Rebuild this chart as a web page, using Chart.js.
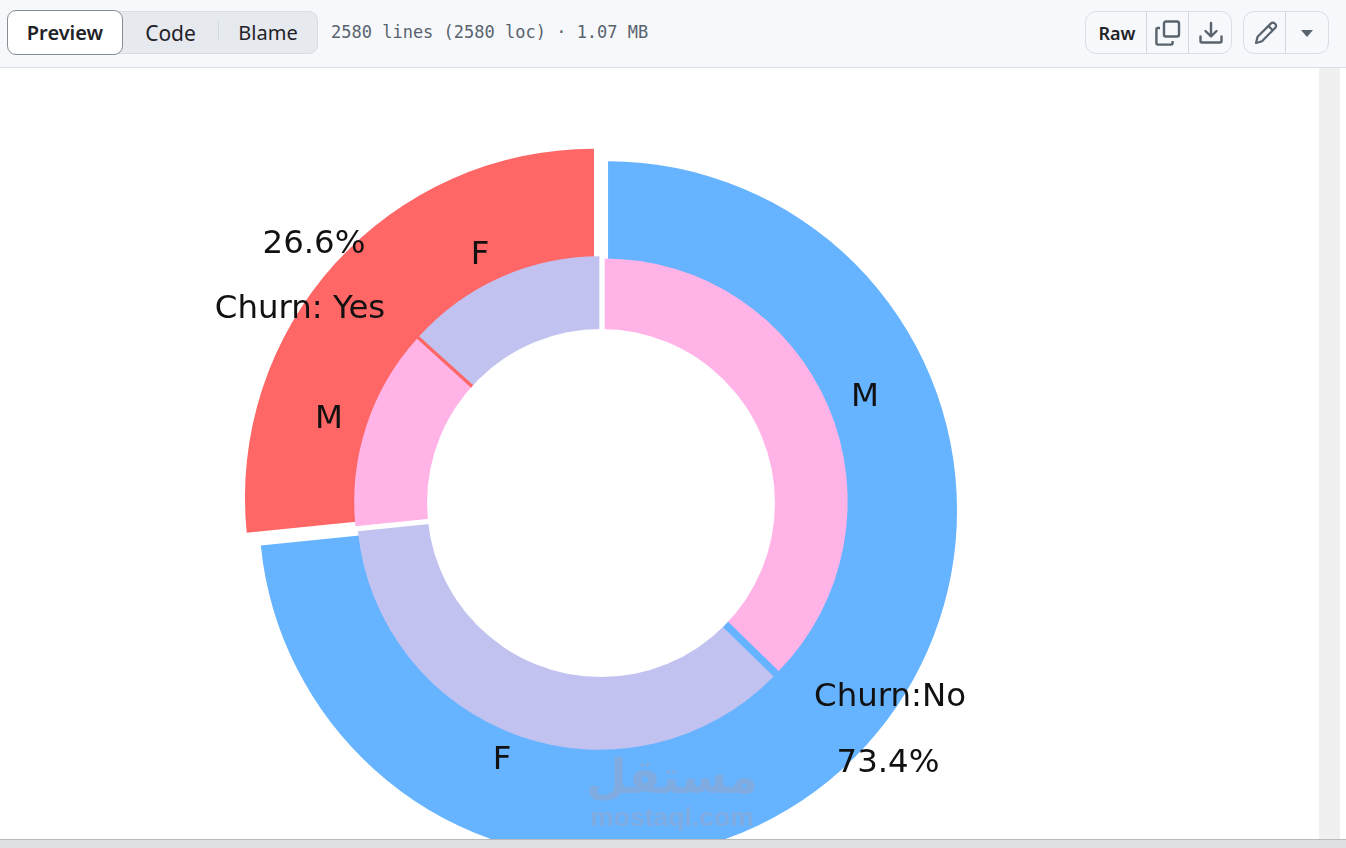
<!DOCTYPE html>
<html>
<head>
<meta charset="utf-8">
<title>Churn</title>
<script src="https://cdn.jsdelivr.net/npm/chart.js@4"></script>
<style>
html, body { margin: 0; padding: 0; width: 1346px; height: 848px; overflow: hidden; background: #fff; }
body { position: relative; font-family: "Noto Sans", sans-serif; color: #1f2328; }
#toolbar { position: absolute; left: 0; top: 0; width: 1346px; height: 67px; background: #f6f8fb; border-bottom: 1px solid #d8dee4; }
.seg { position: absolute; top: 11px; height: 43px; background: #e6e9ee; border: 1px solid #d8dce2; border-radius: 9px; box-sizing: border-box; }
.btn { position: absolute; text-align: center; font-size: 21px; line-height: 42px; }
.preview { left: 7px; top: 10px; width: 116px; height: 45px; line-height: 43px; background: #fff; border: 1px solid #858d97; border-radius: 9px; box-sizing: border-box; font-weight: 600; font-size: 20px; }
.sep { position: absolute; background: #d1d7de; width: 1px; }
#info { position: absolute; left: 331px; top: 22px; font-family: "DejaVu Sans Mono", monospace; font-size: 17px; line-height: 20px; color: #59636e; white-space: pre; }
.group { position: absolute; top: 11px; height: 43px; border: 1px solid #d8dee4; border-radius: 11px; box-sizing: border-box; background: #f6f8fb; }
.icon { position: absolute; }
#track { position: absolute; left: 1319px; top: 68px; width: 21px; height: 772px; background: #f0f0f0; }
#trackEdge { position: absolute; left: 1340px; top: 68px; width: 6px; height: 772px; background: #fff; }
#statusbar { position: absolute; left: 0; top: 839px; width: 1346px; height: 9px; background: #dfe1e5; border-top: 1px solid #b9bbbe; box-sizing: border-box; z-index: 5; }
canvas { position: absolute; }
#outerChart { left: 200.5px; top: 103.5px; }
#innerChart { left: 200.5px; top: 103px; }
.label { position: absolute; font-family: "DejaVu Sans", sans-serif; font-size: 32.4px; color: #111; white-space: nowrap; transform: translate(-50%, -50%); }
.mark { position: absolute; color: #7fabe0; font-weight: 700; white-space: nowrap; transform: translate(-50%, -50%); }
</style>
</head>
<body>
<div id="chartWrap">
    <canvas id="outerChart" width="800" height="800" style="width:800px;height:800px"></canvas>
    <canvas id="innerChart" width="800" height="800" style="width:800px;height:800px"></canvas>
</div>
<div id="labels"></div>
<div class="mark" dir="rtl" style="left:672px;top:776px;font-family:'DejaVu Sans',sans-serif;font-size:47px">مستقل</div>
<div class="mark" style="left:672px;top:817px;font-family:'Liberation Sans',sans-serif;font-size:26.5px">mostaql.com</div>

<div id="toolbar">
    <div class="seg" style="left:100px;width:218px"></div>
    <div class="btn preview">Preview</div>
    <div class="btn" style="left:123px;top:12px;width:95px">Code</div>
    <div class="sep" style="left:218px;top:22px;height:19px"></div>
    <div class="btn" style="left:219px;top:12px;width:98px;font-size:20px">Blame</div>
    <div id="info">2580 lines (2580 loc) · 1.07 MB</div>

    <div class="group" style="left:1085px;width:147px"></div>
    <div class="sep" style="left:1146px;top:12px;height:41px"></div>
    <div class="sep" style="left:1188px;top:12px;height:41px"></div>
    <div class="btn" style="left:1087px;top:12px;width:60px;font-size:18px;font-weight:600">Raw</div>
    <svg class="icon" style="left:1155px;top:20px" width="26" height="26" viewBox="0 0 26 26" fill="none" stroke="#59636e" stroke-width="2.4" stroke-linejoin="round">
        <rect x="9" y="1.5" width="15" height="15" rx="2"/>
        <path d="M5 8H3a1.6 1.6 0 0 0-1.6 1.6V23a1.6 1.6 0 0 0 1.6 1.6h13a1.6 1.6 0 0 0 1.6-1.6v-2"/>
    </svg>
    <svg class="icon" style="left:1199px;top:21px" width="24" height="24" viewBox="0 0 24 24" fill="none" stroke="#59636e" stroke-width="2.4" stroke-linecap="round" stroke-linejoin="round">
        <path d="M12 2v13M6.5 10l5.5 5.5 5.5-5.5M1.5 15.5v4.5a1.5 1.5 0 0 0 1.5 1.5h18a1.5 1.5 0 0 0 1.5-1.5v-4.5"/>
    </svg>

    <div class="group" style="left:1243px;width:86px"></div>
    <div class="sep" style="left:1285px;top:12px;height:41px"></div>
    <svg class="icon" style="left:1254px;top:21px" width="24" height="24" viewBox="0 0 24 24" fill="none" stroke="#59636e" stroke-width="2.2" stroke-linejoin="round">
        <path d="M2 22l1.6-6.2L17 2.4a2.6 2.6 0 0 1 3.7 0l.6.6a2.6 2.6 0 0 1 0 3.7L8 20.2zM14.5 5l4.8 4.8"/>
    </svg>
    <svg class="icon" style="left:1301px;top:30px" width="12" height="7" viewBox="0 0 12 7"><path d="M0 0h12L6 7z" fill="#59636e"/></svg>
</div>
<div id="track"></div>
<div id="trackEdge"></div>
<div id="statusbar"></div>

<script>
// Churn split, clockwise from the top
const churnLabels = ['Churn:No', 'Churn: Yes'];
const churnValues = [73.4, 26.6];
const churnColors = ['#66b3ff', '#ff6666'];

const genderLabels = ['M', 'F', 'M', 'F'];
const genderValues = [37.3, 36.1, 13.3, 13.3];
const genderColors = ['#ffb3e6', '#c2c2f0', '#ffb3e6', '#c2c2f0'];

// Text around the rings: [text, centre x, centre y]
const textLabels = [
    ['26.6%', 314, 242],
    ['Churn: Yes', 300, 307],
    ['F', 480, 253],
    ['M', 329, 417],
    ['M', 865, 395],
    ['F', 502, 758],
    ['Churn:No', 890, 695],
    ['73.4%', 888, 761]
];

const outerRadius = 349;
const outerExplode = 9.5;
const innerRadius = 243;
const innerExplode = 4;
const holeRadius = 174;

// Chart.js offset also grows the radius, so push each slice out along its mid angle here
function explodePlugin(distance) {
    return {
        id: 'explode',
        afterDatasetsUpdate(chart) {
            chart.getDatasetMeta(0).data.forEach(arc => {
                const mid = (arc.startAngle + arc.endAngle) / 2;
                arc.x += Math.cos(mid) * distance;
                arc.y += Math.sin(mid) * distance;
            });
        }
    };
}

// White circle on top of the inner pie, turns it into a ring
const holePlugin = {
    id: 'hole',
    afterDatasetsDraw(chart) {
        const area = chart.chartArea;
        const ctx = chart.ctx;
        ctx.save();
        ctx.fillStyle = '#fff';
        ctx.beginPath();
        ctx.arc((area.left + area.right) / 2, (area.top + area.bottom) / 2, holeRadius, 0, Math.PI * 2);
        ctx.fill();
        ctx.restore();
    }
};

function pieOptions(radius) {
    return {
        responsive: false,
        animation: false,
        radius: radius,
        cutout: 0,
        layout: { padding: 0 },
        plugins: { legend: { display: false }, tooltip: { enabled: false } }
    };
}

new Chart(document.getElementById('outerChart'), {
    type: 'doughnut',
    data: {
        labels: churnLabels,
        datasets: [{
            data: churnValues,
            backgroundColor: churnColors,
            borderWidth: 0
        }]
    },
    options: pieOptions(outerRadius),
    plugins: [explodePlugin(outerExplode)]
});

new Chart(document.getElementById('innerChart'), {
    type: 'doughnut',
    data: {
        labels: genderLabels,
        datasets: [{
            data: genderValues,
            backgroundColor: genderColors,
            borderWidth: 0
        }]
    },
    options: pieOptions(innerRadius),
    plugins: [explodePlugin(innerExplode), holePlugin]
});

const labelBox = document.getElementById('labels');
textLabels.forEach(item => {
    const el = document.createElement('div');
    el.className = 'label';
    el.textContent = item[0];
    el.style.left = item[1] + 'px';
    el.style.top = item[2] + 'px';
    labelBox.appendChild(el);
});
</script>
</body>
</html>
